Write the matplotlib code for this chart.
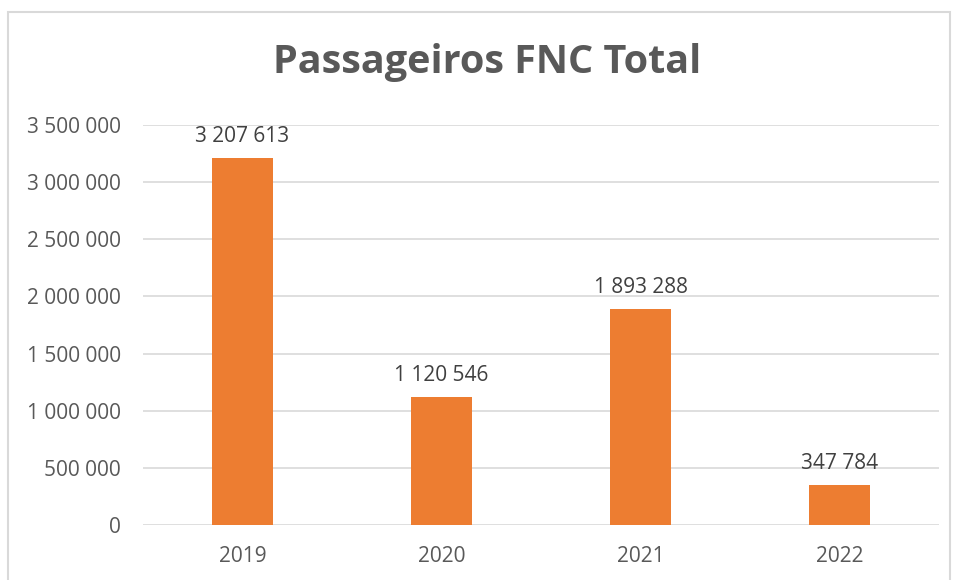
import matplotlib
matplotlib.use("Agg")
import matplotlib.pyplot as plt
from matplotlib.patches import Rectangle

years = ["2019", "2020", "2021", "2022"]
passengers = [3207613, 1120546, 1893288, 347784]
y_ticks = [0, 500000, 1000000, 1500000, 2000000, 2500000, 3000000, 3500000]

BAR_COLOR = "#ED7D31"
TEXT_COLOR = "#595959"
GRID_COLOR = "#D9D9D9"

plt.rcParams["font.family"] = ["Open Sans", "DejaVu Sans"]


def fmt(v):
    return f"{v:,}".replace(",", " ")


W, H = 956, 580
fig = plt.figure(figsize=(W / 100, H / 100), dpi=100)

# chart border (light gray frame)
fig.patches.append(Rectangle((8 / W, -0.01), (950 - 8) / W, 1 - 12 / H + 0.01,
                             transform=fig.transFigure, fill=False,
                             edgecolor=GRID_COLOR, linewidth=1.5))

ax = fig.add_axes([143 / W, 1 - 525 / H, (939 - 143) / W, 400 / H])
x = range(len(years))
ax.bar(x, passengers, width=0.31, color=BAR_COLOR, zorder=3)

for xi, v in zip(x, passengers):
    ax.annotate(fmt(v), (xi, v), xytext=(0, 8), textcoords="offset points",
                ha="center", va="bottom", fontsize=15, color="#404040")

ax.set_xlim(-0.5, len(years) - 0.5)
ax.set_ylim(0, 3500000)
ax.set_yticks(y_ticks)
ax.set_yticklabels([fmt(t) for t in y_ticks])
ax.set_xticks(list(x))
ax.set_xticklabels(years)
ax.tick_params(axis="both", length=0, labelsize=15, labelcolor=TEXT_COLOR)
ax.tick_params(axis="y", pad=16)
ax.tick_params(axis="x", pad=15)
ax.grid(axis="y", color=GRID_COLOR, linewidth=1.2, zorder=0)
for s in ax.spines.values():
    s.set_visible(False)

fig.text(487 / W, 1 - 63 / H, "Passageiros FNC Total", ha="center", va="center",
         fontsize=28.5, fontweight="bold", color=TEXT_COLOR)

fig.savefig("out.png", dpi=100)
